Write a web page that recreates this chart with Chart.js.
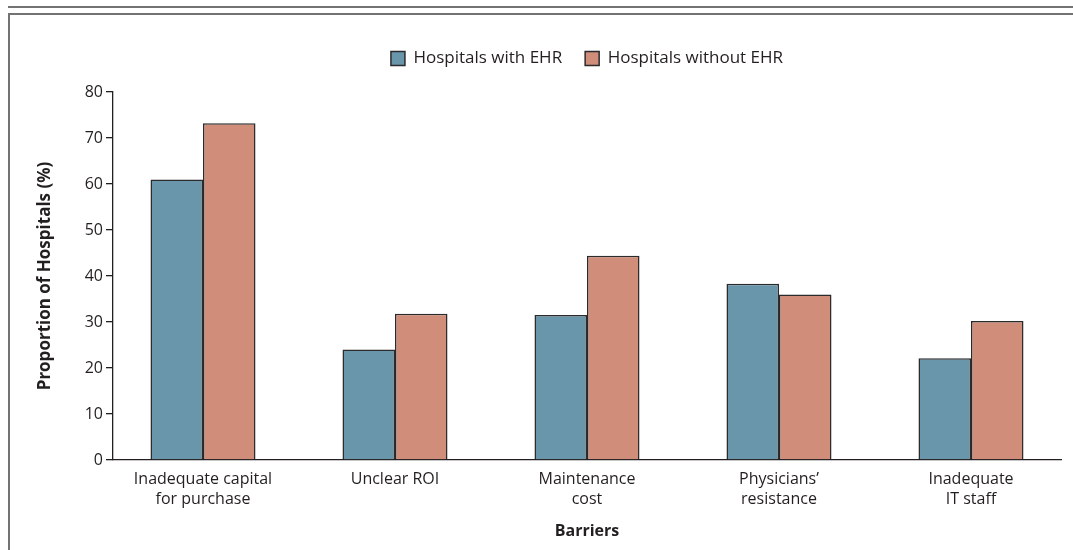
<!DOCTYPE html>
<html>
<head>
<meta charset="utf-8">
<script src="https://cdn.jsdelivr.net/npm/chart.js@4.4.1/dist/chart.umd.min.js"></script>
<style>
  html, body { margin: 0; padding: 0; background: #fff; }
  #wrap { position: relative; width: 1073px; height: 550px; overflow: hidden; }
  /* frame of the figure */
  #rule { position: absolute; left: 8px; right: 0; top: 6px; height: 2px; background: #737373; }
  #frame { position: absolute; left: 8px; top: 13px; width: 1200px; height: 700px;
           border-top: 2px solid #737373; border-left: 2px solid #737373; }
  #chart { position: absolute; left: 0; top: 0; }
</style>
</head>
<body>
<div id="wrap">
  <div id="rule"></div>
  <div id="frame"></div>
  <canvas id="chart" width="1073" height="550"></canvas>
</div>
<script>
// Barriers to EHR adoption
var barriers = [
  ["Inadequate capital", "for purchase"],
  "Unclear ROI",
  ["Maintenance", "cost"],
  ["Physicians\u2019", "resistance"],
  ["Inadequate", "IT staff"]
];
var withEhr = [61, 24, 31.5, 38.3, 22.1];
var withoutEhr = [73.2, 31.8, 44.4, 36, 30.2];
var yMax = 80;
var yStep = 10;

var TEXT = "#231f20";
Chart.defaults.font.family = "'Open Sans'";
Chart.defaults.color = TEXT;

// extra room under the legend
var legendGap = {
  id: "legendGap",
  beforeInit(chart) {
    var fit = chart.legend.fit;
    chart.legend.fit = function () {
      fit.bind(chart.legend)();
      this.height += 15;
    };
  }
};

new Chart(document.getElementById("chart").getContext("2d"), {
  type: "bar",
  data: {
    labels: barriers,
    datasets: [
      {
        label: "Hospitals with EHR",
        data: withEhr,
        backgroundColor: "#6a96ac",
        borderColor: "#2b2b2b",
        borderWidth: 1.5
      },
      {
        label: "Hospitals without EHR",
        data: withoutEhr,
        backgroundColor: "#cf8d7a",
        borderColor: "#2b2b2b",
        borderWidth: 1.5
      }
    ]
  },
  options: {
    responsive: false,
    animation: false,
    layout: { padding: { top: 27, right: 12, bottom: 0, left: 0 } },
    categoryPercentage: 0.547,
    barPercentage: 1,
    plugins: {
      tooltip: { enabled: false },
      legend: {
        fullSize: false,
        labels: {
          boxWidth: 14,
          boxHeight: 14,
          padding: 23,
          color: TEXT,
          font: { size: 17 }
        }
      }
    },
    scales: {
      x: {
        offset: false,
        grid: { display: false, drawTicks: false },
        border: { display: true, color: TEXT, width: 1.3 },
        ticks: {
          padding: 9,
          color: TEXT,
          maxRotation: 0,
          autoSkip: false,
          font: { size: 16, lineHeight: 1.25 }
        },
        title: {
          display: true,
          text: "Barriers",
          color: TEXT,
          font: { size: 16, weight: "bold" },
          padding: { top: 0, bottom: 9 }
        },
        afterBuildTicks(scale) {
          // edge gap a bit smaller than the gap between groups
          scale._startValue = -0.46875;
          scale._valueRange = 4.9375;
        },
        afterFit(scale) {
          scale.height = 90;
        }
      },
      y: {
        min: 0,
        max: yMax,
        grid: {
          drawOnChartArea: false,
          drawTicks: true,
          tickLength: 7,
          color: TEXT,
          lineWidth: 1.3
        },
        border: { display: true, color: TEXT, width: 1.3 },
        ticks: {
          stepSize: yStep,
          padding: 3,
          color: TEXT,
          font: { size: 16 }
        },
        title: {
          display: true,
          text: "Proportion of Hospitals (%)",
          color: TEXT,
          font: { size: 17, weight: "bold" },
          padding: { top: 35, bottom: 0 }
        },
        afterFit(scale) {
          scale.width = 113;
        }
      }
    }
  },
  plugins: [legendGap]
});
</script>
</body>
</html>
